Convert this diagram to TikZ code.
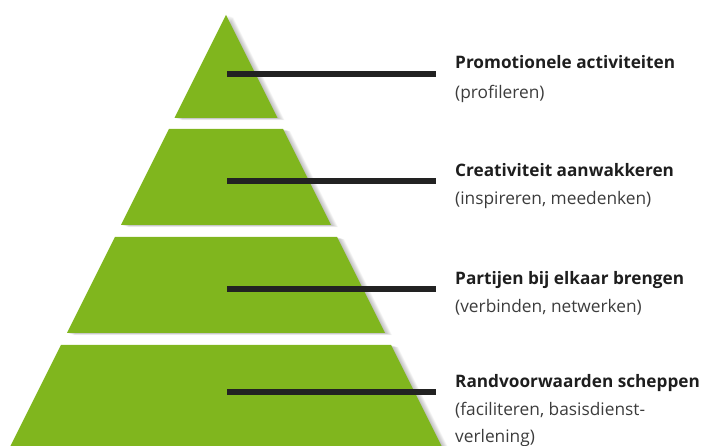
\documentclass[tikz,border=0pt]{standalone}
\usepackage{fontspec}
\setmainfont{Open Sans}
\definecolor{pgreen}{RGB}{128,182,30}
\definecolor{pline}{RGB}{34,34,34}
\definecolor{ptitle}{RGB}{30,30,30}
\definecolor{psub}{RGB}{60,60,60}
\begin{document}
\begin{tikzpicture}[x=1pt,y=-1pt,
  tier/.style={fill=pgreen},
  shadowtier/.style={fill=black,fill opacity=0.04},
  leader/.style={draw=pline,line width=5.5pt},
  title/.style={anchor=base west,inner sep=0pt,font=\fontsize{17.2}{20}\selectfont\bfseries,text=ptitle},
  sub/.style={anchor=base west,inner sep=0pt,font=\fontsize{17.3}{20}\selectfont,text=psub}]
\useasboundingbox (0,0) rectangle (705,446);
\clip (0,0) rectangle (705,446);
% soft shadows on the right side
\foreach \k in {1,...,7}{
  \begin{scope}[shift={(\k,0.3*\k)}]
    \fill[shadowtier] (226,15) -- (277.5,118) -- (174.5,118) -- cycle;
    \fill[shadowtier] (169,129) -- (283,129) -- (331,225) -- (121,225) -- cycle;
    \fill[shadowtier] (115,237) -- (337,237) -- (385,333) -- (67,333) -- cycle;
    \fill[shadowtier] (61,345) -- (391,345) -- (443.5,450) -- (8.5,450) -- cycle;
  \end{scope}
}
% tiers
\fill[tier] (226,15) -- (277.5,118) -- (174.5,118) -- cycle;
\fill[tier] (169,129) -- (283,129) -- (331,225) -- (121,225) -- cycle;
\fill[tier] (115,237) -- (337,237) -- (385,333) -- (67,333) -- cycle;
\fill[tier] (61,345) -- (391,345) -- (443.5,450) -- (8.5,450) -- cycle;
% leaders
\coordinate (s1) at (227,74);  \coordinate (e1) at (436,74);
\coordinate (s2) at (227,181); \coordinate (e2) at (436,181);
\coordinate (s3) at (227,289); \coordinate (e3) at (436,289);
\coordinate (s4) at (227,392); \coordinate (e4) at (436,392);
\draw[leader] (s1) -- (e1);
\draw[leader] (s2) -- (e2);
\draw[leader] (s3) -- (e3);
\draw[leader] (s4) -- (e4);
% texts
\node[title] (t1) at (455,69) {Promotionele activiteiten};
\node[sub]   (u1) at (455,99) {(profileren)};
\node[title] (t2) at (455,177) {Creativiteit aanwakkeren};
\node[sub]   (u2) at (455,205) {(inspireren, meedenken)};
\node[title] (t3) at (455,285) {Partijen bij elkaar brengen};
\node[sub]   (u3) at (455,313) {(verbinden, netwerken)};
\node[title] (t4) at (455,388) {Randvoorwaarden scheppen};
\node[sub]   (u4) at (455,416) {(faciliteren, basisdienst-};
\node[sub]   (u4b) at (455,443) {verlening)};
\end{tikzpicture}
\end{document}
